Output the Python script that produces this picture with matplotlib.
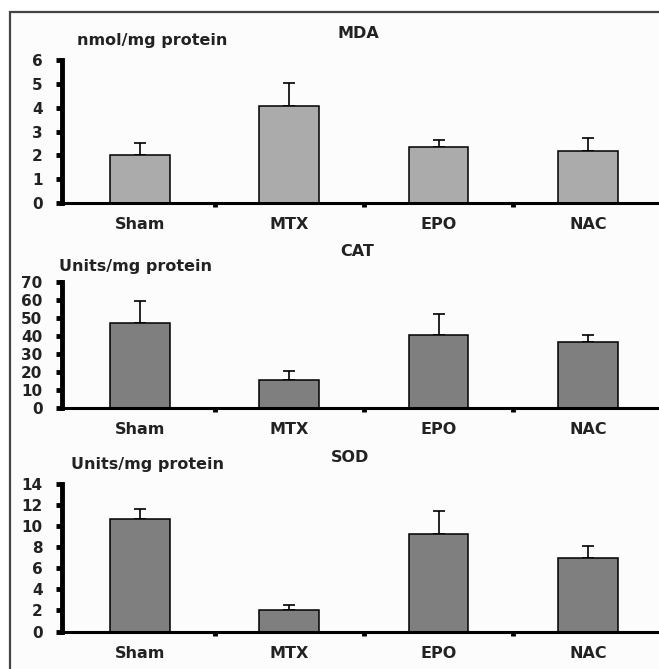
import matplotlib
matplotlib.use("Agg")
import matplotlib.pyplot as plt
from matplotlib.patches import Rectangle

groups = ["Sham", "MTX", "EPO", "NAC"]

mda_mean = [2.0, 4.05, 2.35, 2.2]
mda_err = [0.5, 1.0, 0.3, 0.52]

cat_mean = [47.3, 15.8, 40.5, 36.6]
cat_err = [12.2, 4.6, 11.7, 4.0]

sod_mean = [10.7, 2.05, 9.3, 6.97]
sod_err = [0.95, 0.42, 2.1, 1.1]

panels = [
    dict(title="MDA", unit="nmol/mg protein", mean=mda_mean, err=mda_err,
         ymax=6, step=1, color="#ababab",
         y0=203, ytop=60, title_xy=(358, 33), unit_xy=(77, 41)),
    dict(title="CAT", unit="Units/mg protein", mean=cat_mean, err=cat_err,
         ymax=70, step=10, color="#7f7f7f",
         y0=408, ytop=282, title_xy=(357, 252), unit_xy=(59, 267)),
    dict(title="SOD", unit="Units/mg protein", mean=sod_mean, err=sod_err,
         ymax=14, step=2, color="#7f7f7f",
         y0=631.5, ytop=484, title_xy=(350, 457), unit_xy=(71, 465)),
]

W, H = 659, 669
fig = plt.figure(figsize=(W / 100, H / 100), dpi=100)
fig.patch.set_facecolor("white")
plt.rcParams["font.family"] = ["DejaVu Sans"]

# outer frame
fig.patches.append(Rectangle((10 / W, -0.1), 1.2, 1 - 12 / H + 0.1,
                             transform=fig.transFigure, facecolor="#fcfcfc",
                             edgecolor="#444444", linewidth=1.6, zorder=-5))

axl = 62
xc0, dx = 140, 149.3
xlo = -(xc0 - axl) / dx
xhi = (W - xc0) / dx
txtc = "#222222"
fs = 11.5

for p in panels:
    ax = fig.add_axes([axl / W, 1 - p["y0"] / H, (W - axl) / W,
                       (p["y0"] - p["ytop"]) / H])
    ax.set_facecolor("none")
    x = list(range(len(groups)))
    ax.bar(x, p["mean"], width=0.40, color=p["color"], edgecolor="black",
           linewidth=1.1, zorder=2)
    ax.errorbar(x, p["mean"], yerr=[[0] * len(x), p["err"]], fmt="none",
                ecolor="black", elinewidth=1.2, capsize=4.6, capthick=1.2,
                zorder=1)
    ax.set_xlim(xlo, xhi)
    ax.set_ylim(0, p["ymax"])
    ax.set_yticks(range(0, p["ymax"] + 1, p["step"]))
    ax.tick_params(axis="y", direction="out", length=4, width=3.5,
                   labelsize=fs - 0.5, pad=10, colors="black", labelcolor=txtc)
    for lab in ax.get_yticklabels():
        lab.set_fontweight("bold")
    ax.set_xticks([0.5, 1.5, 2.5])
    ax.set_xticklabels([])
    ax.tick_params(axis="x", direction="out", length=3, width=3.5,
                   colors="black")
    for i, g in enumerate(groups):
        ax.annotate(g, (i, 0), xycoords="data", xytext=(0, -14),
                    textcoords="offset pixels", ha="center", va="top",
                    fontsize=fs, fontweight="bold", color=txtc,
                    annotation_clip=False)
    for s in ["top", "right"]:
        ax.spines[s].set_visible(False)
    ax.spines["left"].set_linewidth(3.5)
    ax.spines["bottom"].set_linewidth(2.2)
    ax.spines["left"].set_capstyle("projecting")
    ax.spines["bottom"].set_capstyle("projecting")

    fig.text(p["title_xy"][0] / W, 1 - p["title_xy"][1] / H, p["title"],
             ha="center", va="center", fontsize=fs, fontweight="bold",
             color=txtc)
    fig.text(p["unit_xy"][0] / W, 1 - p["unit_xy"][1] / H, p["unit"],
             ha="left", va="center", fontsize=fs, fontweight="bold",
             color=txtc)

fig.savefig("out.png", dpi=100)
